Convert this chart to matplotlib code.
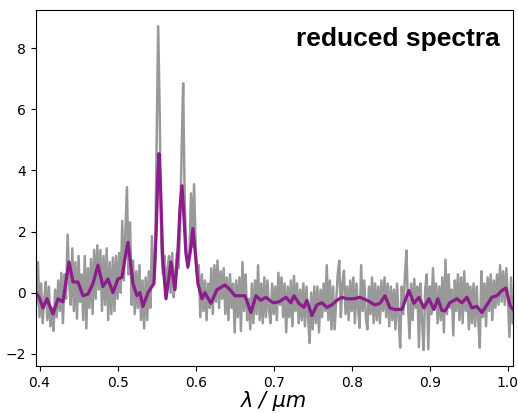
import numpy as np
import matplotlib
matplotlib.use("Agg")
import matplotlib.pyplot as plt

# observed spectrum, sampled every 0.002 um from 0.396 to 1.006
wl_start, wl_step = 0.396, 0.002
grey_flux = [
    -0.4, 1.0, -0.8, 0.3, -1.0, -0.2, 0.35, -0.9, 0.2, -1.1,
    -0.5, -1.25, 0.1, -0.8, 0.4, -0.6, 0.65, -1.0, 0.6, -0.2,
    1.9, 0.3, -0.4, 1.45, -0.6, 1.0, -0.85, 1.2, -0.3, 0.6,
    -0.9, 1.2, -1.17, 0.8, -0.5, 1.1, -0.7, 1.4, -0.2, 1.55,
    0.1, 1.4, -0.6, 1.2, -0.4, 1.45, -0.9, 1.0, -0.7, 1.15,
    -0.6, 1.2, -0.2, 1.3, 0.0, 2.35, 0.4, 1.9, 3.45, 0.6,
    2.3, -0.4, 1.05, -0.7, 0.7, -0.5, 0.9, -0.9, 0.4, -1.17,
    0.5, -0.9, 0.7, -0.5, 1.85, 0.3, 1.0, 5.0, 8.72, 5.8,
    1.5, 0.6, 1.2, 0.1, 0.8, 1.2, 0.0, 1.3, -0.15, 0.7,
    1.3, 0.8, 2.0, 4.6, 6.85, 3.0, 1.3, 0.8, 1.2, 3.25,
    1.5, 3.55, 1.5, 0.5, 0.9, -0.8, 0.6, -0.6, 0.4, -0.9,
    0.3, -0.5, 0.8, -0.7, 0.9, -0.3, 1.05, -0.5, 0.7, -0.2,
    0.8, -0.7, 0.5, -0.9, 0.6, -0.5, 0.3, -1.3, 0.4, -0.8,
    0.5, -1.25, 1.0, -0.6, 0.6, -0.9, -0.2, -1.2, 0.3, -1.0,
    0.4, -0.7, 0.9, -0.9, 0.3, -1.0, 0.5, -0.8, 0.4, -0.6,
    -1.0, 0.3, -0.7, 0.2, -0.9, 0.65, -0.4, 0.5, -0.8, 0.3,
    -1.3, 0.2, -0.8, 0.4, -1.1, 0.55, -0.6, 0.3, -1.0, 0.1,
    -0.9, 0.3, -1.1, 0.2, -0.8, -1.65, 0.0, -1.2, 0.2, -1.0,
    0.2, -1.3, 0.1, -0.8, 0.3, -0.6, 0.9, -0.9, 0.4, -1.2,
    0.2, -1.2, -0.3, 0.6, 1.05, -0.8, 0.3, 0.72, -0.7, 0.2,
    -0.9, 0.4, -0.6, 0.5, -1.0, 0.3, -0.5, -1.15, 0.9, -0.6,
    0.4, -0.8, -1.2, 0.2, -0.7, 0.5, -1.0, 0.3, -0.9, 0.2,
    -1.0, 0.4, -0.6, 0.5, -0.8, 0.3, -1.1, 0.2, -0.9, 0.1,
    -1.2, 0.3, -0.8, -1.8, 0.2, -0.7, 0.5, 1.38, -0.4, -1.5,
    0.3, -0.9, 0.45, -0.5, 0.2, -1.78, 0.3, -0.9, -1.88, 0.1,
    0.6, -1.85, 0.2, -0.7, 0.8, -0.5, 0.3, -1.0, 0.2, -0.9,
    0.5, -1.3, 1.08, -0.7, 0.6, -0.5, 0.1, -1.4, 0.4, -0.6,
    0.6, -0.9, 0.5, -1.0, 0.7, -0.6, 0.3, -1.2, 0.2, -1.0,
    0.3, -1.1, 0.2, -0.9, -1.8, 0.7, -0.8, 0.3, -1.1, 0.5,
    -0.6, 0.6, -0.9, 0.4, -0.5, 0.6, -0.4, 0.9, -0.3, 0.7,
    -0.4, 0.8, -0.2, -1.45, 0.5, -1.0,
]
grey_wl = wl_start + wl_step * np.arange(len(grey_flux))

# smoothed spectrum
purple_wl = [
    0.3955, 0.3994, 0.4045, 0.4096, 0.4173, 0.4237, 0.4301, 0.4340, 0.4378, 0.4429,
    0.4493, 0.4557, 0.4621, 0.4685, 0.4749, 0.4813, 0.4877, 0.4941, 0.5005, 0.5056,
    0.5100, 0.5133, 0.5165, 0.5197, 0.5248, 0.5287, 0.5325, 0.5389, 0.5440, 0.5466,
    0.5495, 0.5515, 0.5530, 0.5550, 0.5570, 0.5581, 0.5620, 0.5684, 0.5735, 0.5770,
    0.5800, 0.5825, 0.5850, 0.5875, 0.5901, 0.5935, 0.5965, 0.5995, 0.6029, 0.6081,
    0.6119, 0.6196, 0.6273, 0.6375, 0.6439, 0.6503, 0.6567, 0.6631, 0.6708, 0.6772,
    0.6836, 0.6900, 0.6990, 0.7067, 0.7156, 0.7220, 0.7259, 0.7323, 0.7387, 0.7425,
    0.7489, 0.7553, 0.7617, 0.7681, 0.7745, 0.7809, 0.7873, 0.7937, 0.8027, 0.8104,
    0.8194, 0.8297, 0.8361, 0.8425, 0.8489, 0.8553, 0.8642, 0.8732, 0.8796, 0.8860,
    0.8924, 0.8988, 0.9052, 0.9103, 0.9154, 0.9193, 0.9257, 0.9347, 0.9411, 0.9475,
    0.9539, 0.9602, 0.9666, 0.9731, 0.9795, 0.9859, 0.9923, 0.9974, 1.0026, 1.0064,
]
purple_flux = [
    0.0, -0.15, -0.5, -0.2, -0.7, -0.2, -0.3, 0.4, 1.0, 0.35,
    0.35, -0.1, -0.05, 0.3, 0.9, 0.2, 0.45, 0.0, 0.45, 0.5,
    1.2, 1.65, 1.0, 0.3, -0.1, 0.0, -0.45, 0.0, 0.2, 0.3,
    2.0, 3.8, 4.55, 3.5, 1.8, 1.0, -0.2, 1.0, 0.1, 1.2,
    2.8, 3.5, 2.5, 1.3, 0.85, 1.4, 2.1, 1.3, 0.3, -0.2,
    0.0, -0.35, 0.1, 0.25, 0.1, -0.1, -0.1, -0.1, -0.65, -0.1,
    -0.25, -0.15, -0.33, -0.3, -0.15, -0.33, -0.1, -0.35, -0.48, -0.25,
    -0.75, -0.4, -0.33, -0.48, -0.4, -0.25, -0.15, -0.2, -0.2, -0.15,
    -0.25, -0.4, -0.35, -0.1, -0.5, -0.55, -0.55, 0.07, -0.35, -0.15,
    -0.5, -0.2, -0.55, -0.2, -0.58, -0.6, -0.33, -0.2, -0.33, -0.15,
    -0.5, -0.45, -0.65, -0.4, -0.15, -0.1, 0.07, 0.15, -0.4, -0.55,
]

fig = plt.figure(figsize=(5.18, 4.13), dpi=100)
ax = fig.add_axes([0.0695, 0.1138, 0.9208, 0.862])

ax.plot(grey_wl, grey_flux, color="#999999", lw=1.8)
ax.plot(purple_wl, purple_flux, color="#8c1c8c", lw=2.3,
        solid_joinstyle="round")

ax.set_xlim(0.3955, 1.0065)
ax.set_ylim(-2.4, 9.25)
ax.set_xticks([0.4, 0.5, 0.6, 0.7, 0.8, 0.9, 1.0])
ax.set_yticks([-2, 0, 2, 4, 6, 8])
ax.tick_params(labelsize=10)
ax.set_xlabel("λ / μm", fontsize=15, style="italic", labelpad=1)

ax.text(0.973, 0.899, "reduced spectra", transform=ax.transAxes,
        ha="right", va="baseline", fontsize=19, fontweight="bold",
        family="Liberation Sans")

fig.savefig("out.png", dpi=100)
